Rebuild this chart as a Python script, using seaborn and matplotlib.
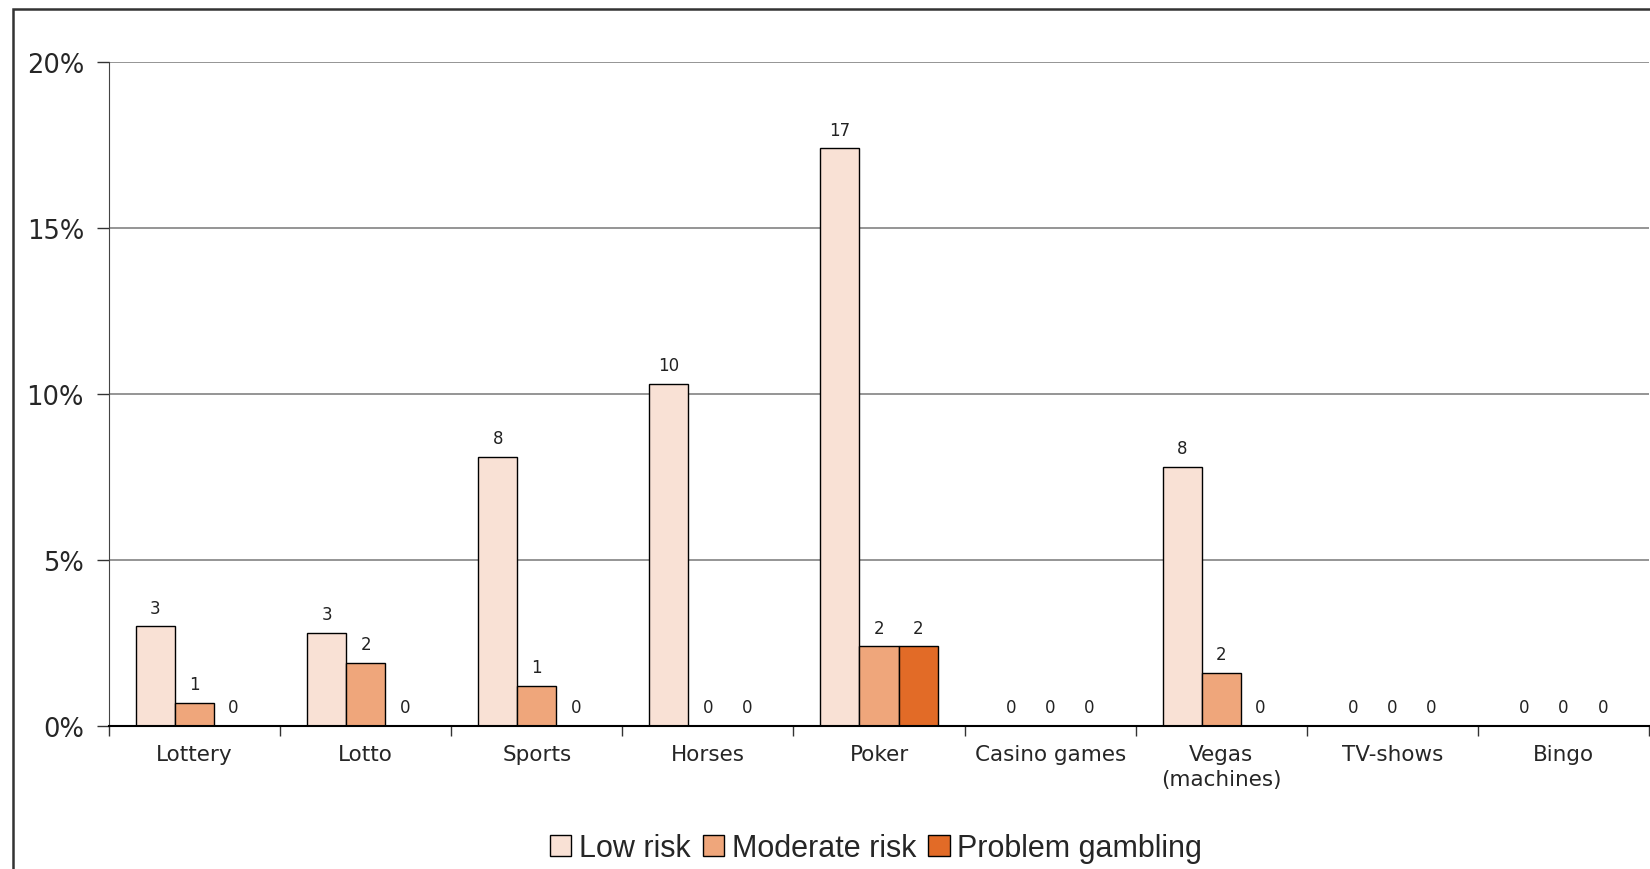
import pandas as pd
import matplotlib.pyplot as plt
import seaborn as sns
from matplotlib.patches import Rectangle
from matplotlib.ticker import FuncFormatter

# data (percent)
categories = ["Lottery", "Lotto", "Sports", "Horses", "Poker", "Casino games",
              "Vegas\n(machines)", "TV-shows", "Bingo"]
low_risk = [3.0, 2.8, 8.1, 10.3, 17.4, 0, 7.8, 0, 0]
moderate_risk = [0.7, 1.9, 1.2, 0, 2.4, 0, 1.6, 0, 0]
problem_gambling = [0, 0, 0, 0, 2.4, 0, 0, 0, 0]
groups = ["Low risk", "Moderate risk", "Problem gambling"]
colors = ["#F9E1D5", "#EFA67B", "#E26B27"]

df = pd.DataFrame({
    "category": categories * 3,
    "group": [groups[0]] * 9 + [groups[1]] * 9 + [groups[2]] * 9,
    "value": low_risk + moderate_risk + problem_gambling,
})

sns.set_style("white")
plt.rcParams["font.family"] = ["DejaVu Sans"]

fig = plt.figure(figsize=(16.5, 8.7), dpi=100)
ax = fig.add_axes([0.066, 0.1644, 0.9335, 0.7632])

sns.barplot(data=df, x="category", y="value", hue="group", order=categories,
            hue_order=groups, palette=colors, saturation=1, width=0.685, gap=0,
            edgecolor="black", linewidth=1, errorbar=None, ax=ax, legend=True)

# value labels above bars
for cont in ax.containers:
    labels = [f"{round(b.get_height()):.0f}" for b in cont]
    ax.bar_label(cont, labels=labels, padding=7, fontsize=12, color="#222222")

ax.set_ylim(0, 20)
ax.set_xlim(-0.5, 8.5)
ax.set_yticks([0, 5, 10, 15, 20])
ax.yaxis.set_major_formatter(FuncFormatter(lambda v, p: f"{v:.0f}%"))
ax.yaxis.grid(True, color="#8c8c8c", linewidth=1.3)
ax.set_axisbelow(True)

# ticks at category boundaries, labels at centers
ax.set_xticks([i + 0.5 for i in range(-1, 9)])
ax.set_xticklabels([])
ax.set_xticks(range(9), minor=True)
ax.set_xticklabels(categories, minor=True, fontsize=15.5, linespacing=1.3)
ax.tick_params(axis="x", which="major", length=7, width=1, color="#333333",
               direction="out", bottom=True)
ax.tick_params(axis="x", which="minor", length=0, pad=13)
ax.tick_params(axis="y", length=9, width=1, color="#333333", direction="out",
               left=True, labelsize=18.5, pad=9)

ax.set_xlabel("")
ax.set_ylabel("")
for s in ["top", "right"]:
    ax.spines[s].set_visible(False)
ax.spines["left"].set_color("#444444")
ax.spines["bottom"].set_color("black")
ax.spines["bottom"].set_linewidth(1.5)

handles, lbls = ax.get_legend_handles_labels()
ax.get_legend().remove()
fig.legend(handles, lbls, loc="center", bbox_to_anchor=(0.531, 0.024), ncol=3,
           frameon=False, prop={"family": "Liberation Sans", "size": 22},
           handlelength=0.7, handleheight=0.7, handletextpad=0.25,
           columnspacing=0.4, borderpad=0)

# outer chart frame (cut off at right and bottom)
fig.patches.append(Rectangle((13 / 1650, -0.1), 1.2, 1 - 10 / 870 + 0.1,
                             transform=fig.transFigure, fill=False,
                             edgecolor="#333333", linewidth=1.8))

fig.savefig("out.png", dpi=100)
